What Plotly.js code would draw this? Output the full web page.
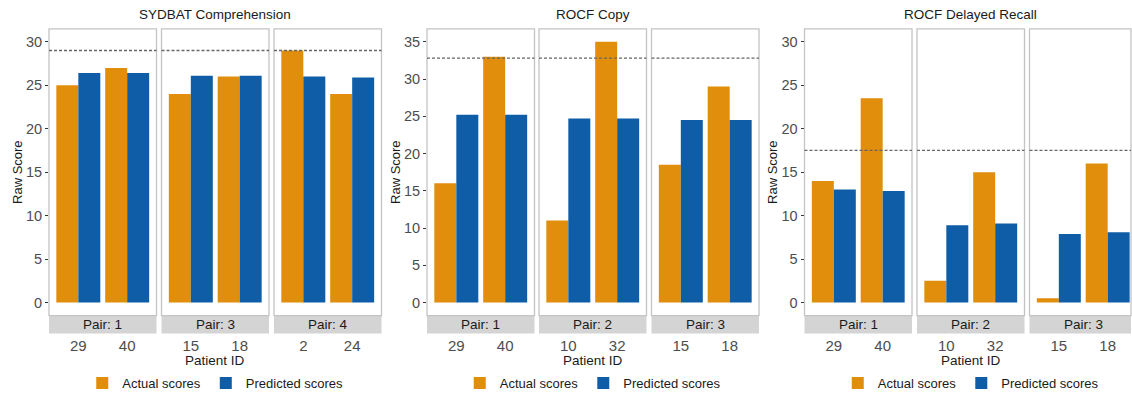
<!DOCTYPE html>
<html>
<head>
<meta charset="utf-8">
<script src="https://cdn.plot.ly/plotly-3.0.1.min.js"></script>
<style>html,body{margin:0;padding:0;background:#fff;}#chart{width:1132px;height:398px;}</style>
</head>
<body>
<div id="chart"></div>
<script>
// ---------- data ----------
const panelTitles = ['SYDBAT Comprehension', 'ROCF Copy', 'ROCF Delayed Recall'];

const sydbatPairs = ['Pair: 1', 'Pair: 3', 'Pair: 4'];
const sydbatPatients = [['29', '40'], ['15', '18'], ['2', '24']];
const sydbatActual = [[25, 27], [24, 26], [29, 24]];
const sydbatPredicted = [[26.4, 26.4], [26.1, 26.1], [26.0, 25.9]];
const sydbatCutoff = 29;

const copyPairs = ['Pair: 1', 'Pair: 2', 'Pair: 3'];
const copyPatients = [['29', '40'], ['10', '32'], ['15', '18']];
const copyActual = [[16, 33], [11, 35], [18.5, 29]];
const copyPredicted = [[25.2, 25.2], [24.7, 24.7], [24.5, 24.5]];
const copyCutoff = 32.8;

const recallPairs = ['Pair: 1', 'Pair: 2', 'Pair: 3'];
const recallPatients = [['29', '40'], ['10', '32'], ['15', '18']];
const recallActual = [[14, 23.5], [2.5, 15], [0.5, 16]];
const recallPredicted = [[13.0, 12.85], [8.9, 9.1], [7.9, 8.1]];
const recallCutoff = 17.5;

const yTickVals = [[0, 5, 10, 15, 20, 25, 30], [0, 5, 10, 15, 20, 25, 30, 35], [0, 5, 10, 15, 20, 25, 30]];
const seriesNames = ['Actual scores', 'Predicted scores'];

// ---------- layout helpers ----------
const W = 1132, H = 398;
const px = x => x / W;
const py = y => 1 - y / H;
const FONT = 'Liberation Sans, Arial, Helvetica, sans-serif';
const COLORS = ['#E08E0B', '#0E5DA6'];

const panels = [
  {title: panelTitles[0], pairs: sydbatPairs, patients: sydbatPatients, actual: sydbatActual, predicted: sydbatPredicted, cutoff: sydbatCutoff, yrange: [-1.5, 31.5], yticks: yTickVals[0]},
  {title: panelTitles[1], pairs: copyPairs, patients: copyPatients, actual: copyActual, predicted: copyPredicted, cutoff: copyCutoff, yrange: [-1.75, 36.75], yticks: yTickVals[1]},
  {title: panelTitles[2], pairs: recallPairs, patients: recallPatients, actual: recallActual, predicted: recallPredicted, cutoff: recallCutoff, yrange: [-1.5, 31.5], yticks: yTickVals[2]}
];
const facetLeft = [[49, 161.5, 274], [427, 539, 651.5], [804.5, 917, 1029.5]];
const FACET_W = 107.5;
const PLOT_TOP = 29, PLOT_BOT = 318, STRIP_BOT = 336;

const traces = [];
const layout = {
  width: W, height: H, autosize: false,
  margin: {l: 0, r: 0, t: 0, b: 0, pad: 0},
  paper_bgcolor: '#fff', plot_bgcolor: 'rgba(0,0,0,0)',
  barmode: 'group', bargap: 0.1, bargroupgap: 0,
  font: {family: FONT, color: '#1a1a1a'},
  shapes: [], annotations: []
};

panels.forEach((P, p) => {
  const yName = p === 0 ? 'y' : 'y' + (p + 1);
  const yKey = p === 0 ? 'yaxis' : 'yaxis' + (p + 1);
  const legendName = p === 0 ? 'legend' : 'legend' + (p + 1);
  const firstX = 'x' + (p * 3 + 1 === 1 ? '' : p * 3 + 1);

  layout[yKey] = {
    domain: [py(PLOT_BOT), py(PLOT_TOP)],
    anchor: firstX,
    range: P.yrange,
    tickvals: P.yticks,
    ticks: 'outside', ticklen: 3, tickwidth: 1, tickcolor: '#333',
    tickfont: {size: 14.5, color: '#4d4d4d', family: FONT},
    showgrid: false, zeroline: false, showline: false, automargin: false,
    title: {text: 'Raw Score', font: {size: 13, color: '#1a1a1a', family: FONT}, standoff: 0},
    fixedrange: true
  };

  for (let f = 0; f < 3; f++) {
    const k = p * 3 + f + 1;
    const xName = k === 1 ? 'x' : 'x' + k;
    const xKey = k === 1 ? 'xaxis' : 'xaxis' + k;
    const L = facetLeft[p][f];
    let R = L + FACET_W;
    const unit = FACET_W / 2.2;
    let xr = [-0.6, 1.6];
    if (R > 1131) { R = 1131; xr = [-0.6, -0.6 + (R - L) / unit]; }

    layout[xKey] = {
      domain: [px(L), px(R)],
      anchor: yName,
      type: 'category',
      categoryorder: 'array', categoryarray: P.patients[f],
      range: xr,
      ticks: 'outside', ticklen: 16, tickcolor: 'rgba(0,0,0,0)',
      tickfont: {size: 15, color: '#4d4d4d', family: FONT},
      showgrid: false, zeroline: false, showline: false, automargin: false,
      fixedrange: true
    };

    [P.actual[f], P.predicted[f]].forEach((vals, s) => {
      traces.push({
        type: 'bar',
        x: P.patients[f], y: vals,
        xaxis: xName, yaxis: yName,
        name: seriesNames[s],
        legend: legendName,
        legendgroup: legendName + s,
        showlegend: f === 0,
        marker: {color: COLORS[s], line: {width: 0}},
        hoverinfo: 'skip'
      });
    });

    // facet frame
    layout.shapes.push({type: 'rect', xref: 'paper', yref: 'paper', x0: px(L), x1: px(R), y0: py(PLOT_BOT), y1: py(PLOT_TOP),
      line: {color: '#c4c4c4', width: 1.3}, fillcolor: 'rgba(0,0,0,0)', layer: 'above'});
    // strip
    layout.shapes.push({type: 'rect', xref: 'paper', yref: 'paper', x0: px(L), x1: px(R), y0: py(STRIP_BOT), y1: py(PLOT_BOT),
      line: {width: 0}, fillcolor: '#d4d4d4', layer: 'below'});
    // cutoff dashed line
    layout.shapes.push({type: 'line', xref: xName + ' domain', yref: yName, x0: 0, x1: 1, y0: P.cutoff, y1: P.cutoff,
      line: {color: '#666', width: 1.3, dash: '3px,2px'}, layer: 'above'});
    // strip label
    layout.annotations.push({xref: 'paper', yref: 'paper', x: px(L + FACET_W / 2), y: py((PLOT_BOT + STRIP_BOT) / 2),
      text: P.pairs[f], showarrow: false, xanchor: 'center', yanchor: 'middle',
      font: {size: 13.5, color: '#1a1a1a', family: FONT}});
  }

  const midC = px(facetLeft[p][1] + FACET_W / 2);
  layout.annotations.push({xref: 'paper', yref: 'paper', x: midC, y: py(15), text: P.title, showarrow: false,
    xanchor: 'center', yanchor: 'middle', font: {size: 13.5, color: '#1a1a1a', family: FONT}});
  layout.annotations.push({xref: 'paper', yref: 'paper', x: midC, y: py(363), text: 'Patient ID', showarrow: false,
    xanchor: 'center', yanchor: 'middle', font: {size: 13.5, color: '#1a1a1a', family: FONT}});

  layout[legendName] = {
    orientation: 'h', x: midC, xanchor: 'center', y: py(386), yanchor: 'middle',
    font: {size: 13, color: '#1a1a1a', family: FONT}, bgcolor: 'rgba(0,0,0,0)',
    itemwidth: 30, tracegroupgap: 0, itemclick: false, itemdoubleclick: false
  };
});

Plotly.newPlot('chart', traces, layout, {displayModeBar: false, staticPlot: true});
</script>
</body>
</html>
